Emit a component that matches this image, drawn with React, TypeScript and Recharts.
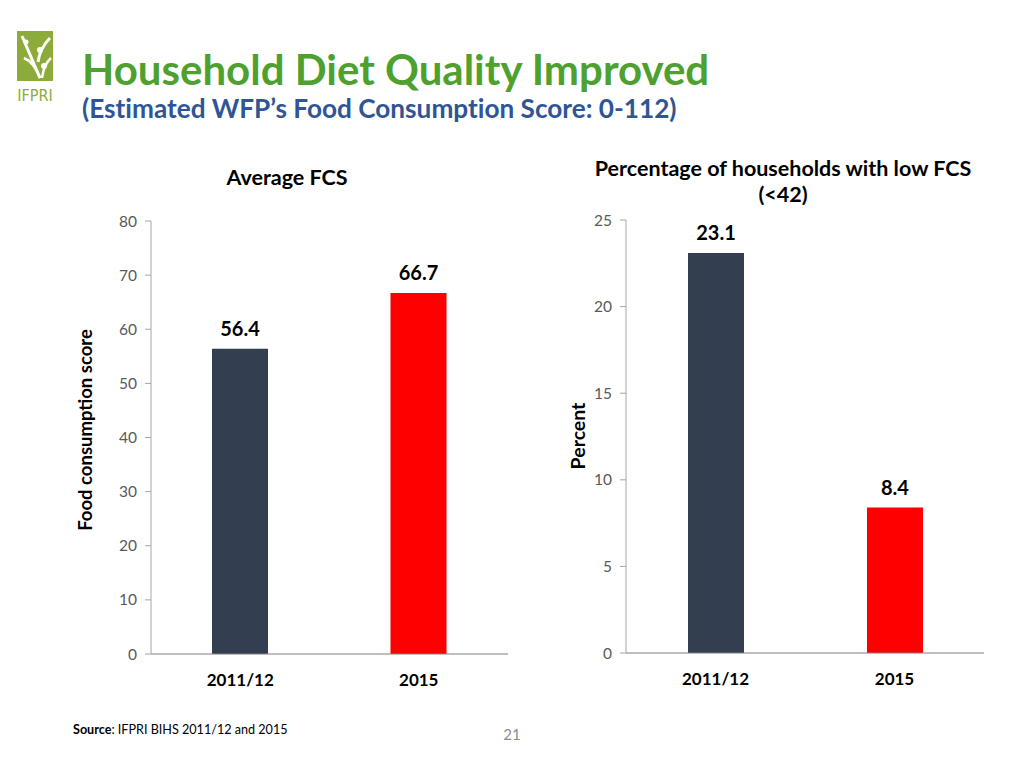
import React from 'react';
import { BarChart, Bar, XAxis, YAxis, Cell, LabelList } from 'recharts';

const categories = ['2011/12', '2015'];
const avgFcs = [56.4, 66.7];
const lowFcsPct = [23.1, 8.4];
const avgTicks = [0, 10, 20, 30, 40, 50, 60, 70, 80];
const pctTicks = [0, 5, 10, 15, 20, 25];
const barColors = ['#333f50', '#ff0000'];

const avgData = categories.map((c, i) => ({ year: c, value: avgFcs[i] }));
const pctData = categories.map((c, i) => ({ year: c, value: lowFcsPct[i] }));

const FONT = 'Lato, "Open Sans", sans-serif';

const abs = (s: React.CSSProperties): React.CSSProperties => ({ position: 'absolute', ...s });

function Chart(props: {
  data: { year: string; value: number }[];
  ticks: number[];
  max: number;
  width: number;
  height: number;
  yWidth: number;
  top: number;
}) {
  return (
    <BarChart
      width={props.width}
      height={props.height}
      data={props.data}
      margin={{ top: props.top, right: 12, left: 0, bottom: 0 }}
      barCategoryGap={0}
    >
      <XAxis
        dataKey="year"
        height={46}
        tickLine={false}
        tickSize={10}
        tickMargin={10}
        axisLine={{ stroke: '#7f7f7f', strokeWidth: 1 }}
        tick={{ fill: '#000', fontSize: 17, fontWeight: 700, fontFamily: FONT }}
        interval={0}
      />
      <YAxis
        width={props.yWidth}
        domain={[0, props.max]}
        ticks={props.ticks}
        interval={0}
        tickSize={6}
        tickMargin={8}
        axisLine={{ stroke: '#a6a6a6' }}
        tickLine={{ stroke: '#a6a6a6' }}
        tick={{ fill: '#595959', fontSize: 15.5, fontFamily: FONT }}
      />
      <Bar dataKey="value" barSize={56} isAnimationActive={false}>
        {props.data.map((d, i) => (
          <Cell key={d.year} fill={barColors[i]} />
        ))}
        <LabelList
          dataKey="value"
          position="top"
          offset={13}
          style={{ fill: '#000', fontSize: 20, fontWeight: 700, fontFamily: FONT }}
        />
      </Bar>
    </BarChart>
  );
}

export default function App() {
  return (
    <div style={abs({ left: 0, top: 0, width: 1024, height: 768, background: '#fff', fontFamily: FONT, overflow: 'hidden' })}>
      {/* Logo */}
      <svg style={abs({ left: 14, top: 28 })} width={44} height={76}>
        <rect x={3} y={3} width={36} height={50} fill="#8dab3b" />
        <path d="M8 8 Q14 22 26 50" stroke="#fff" strokeWidth={3} fill="none" />
        <path d="M10 30 Q20 34 26 50" stroke="#fff" strokeWidth={2.5} fill="none" />
        <path d="M36 10 Q26 20 24 34" stroke="#fff" strokeWidth={3} fill="none" />
        <path d="M37 30 Q30 36 28 50" stroke="#fff" strokeWidth={2.5} fill="none" />
        <circle cx={26} cy={22} r={3} fill="#fff" />
        <circle cx={30} cy={38} r={3} fill="#fff" />
        <circle cx={12} cy={14} r={2.5} fill="#fff" />
        <text x={21} y={73} textAnchor="middle" fontSize={16} fontFamily="'Liberation Sans Narrow', 'DejaVu Sans Condensed', sans-serif" fill="#8dab3b">IFPRI</text>
      </svg>

      <div style={abs({ left: 82, top: 44, fontSize: 42, fontWeight: 700, color: '#4ea02f', whiteSpace: 'nowrap', lineHeight: '50px' })}>
        Household Diet Quality Improved
      </div>
      <div style={abs({ left: 82, top: 92, fontSize: 26.2, fontWeight: 700, color: '#2f5597', whiteSpace: 'nowrap', lineHeight: '32px', fontVariantLigatures: 'none' })}>
        (Estimated WFP’s Food Consumption Score: 0-112)
      </div>

      <div style={abs({ left: 187, top: 164, width: 200, textAlign: 'center', fontSize: 21.5, fontWeight: 700, color: '#000', lineHeight: '26px' })}>
        Average FCS
      </div>
      <div style={abs({ left: 563, top: 155, width: 440, textAlign: 'center', fontSize: 21.5, fontWeight: 700, color: '#000', lineHeight: '26px', height: 26 })}>
        Percentage of households with low FCS
      </div>
      <div style={abs({ left: 563, top: 181, width: 440, textAlign: 'center', fontSize: 21.5, fontWeight: 700, color: '#000', lineHeight: '26px', height: 26 })}>
        (&lt;42)
      </div>

      <div style={abs({ left: 85 - 150, top: 430 - 12, width: 300, textAlign: 'center', transform: 'rotate(-90deg)', fontSize: 18.5, fontWeight: 700, color: '#000', lineHeight: '24px' })}>
        Food consumption score
      </div>
      <div style={abs({ left: 578 - 100, top: 436 - 12, width: 200, textAlign: 'center', transform: 'rotate(-90deg)', fontSize: 19.5, fontWeight: 700, color: '#000', lineHeight: '24px' })}>
        Percent
      </div>

      <div style={abs({ left: 60, top: 200 })}>
        <Chart data={avgData} ticks={avgTicks} max={80} width={460} height={500} yWidth={91} top={21} />
      </div>
      <div style={abs({ left: 540, top: 200 })}>
        <Chart data={pctData} ticks={pctTicks} max={25} width={456} height={499} yWidth={86} top={20} />
      </div>

      <div style={abs({ left: 73, top: 722, fontSize: 12.6, color: '#000', whiteSpace: 'nowrap', lineHeight: '16px' })}>
        <b>Source</b>: IFPRI BIHS 2011/12 and 2015
      </div>
      <div style={abs({ left: 500, top: 724, width: 24, textAlign: 'center', fontSize: 15, color: '#8c8c8c', lineHeight: '20px' })}>
        21
      </div>
    </div>
  );
}
